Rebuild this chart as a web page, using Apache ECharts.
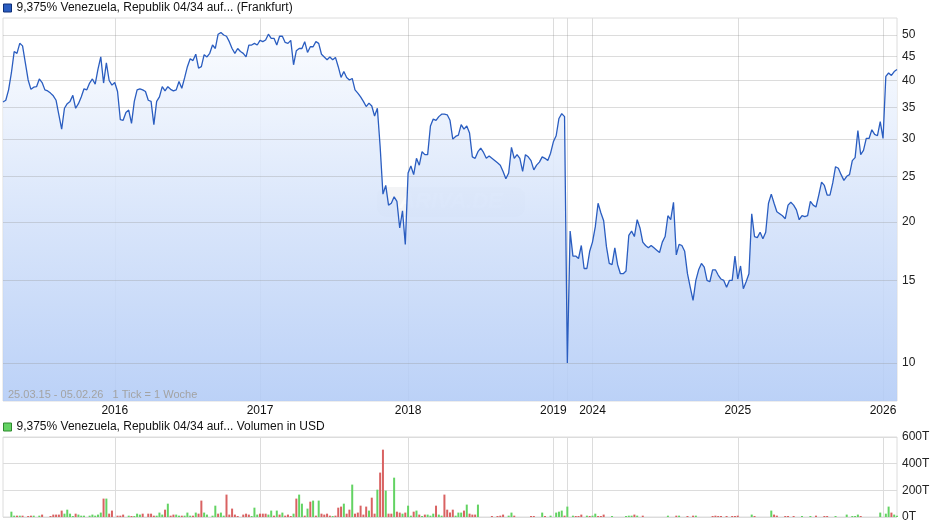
<!DOCTYPE html>
<html><head><meta charset="utf-8">
<script src="https://cdn.jsdelivr.net/npm/echarts@6/dist/echarts.min.js"></script>
<style>html,body{margin:0;padding:0;background:#fff}#c{width:940px;height:526px}</style>
</head><body><div id="c"></div>
<script>
const seriesName = '9,375% Venezuela, Republik 04/34 auf... (Frankfurt)';
const volumeName = '9,375% Venezuela, Republik 04/34 auf... Volumen in USD';
const rangeText = '25.03.15 - 05.02.26   1 Tick = 1 Woche';
const watermarkText = 'ARIVA.DE';
// weekly ticks, two segments (gap between 2019 and 2023)
const seg1Start = '2015-03-26', seg1Weeks = 202;
const seg2Start = '2023-11-02', seg2Weeks = 119;
const priceTicks = [10, 15, 20, 25, 30, 35, 40, 45, 50];
const volumeTicks = [0, 200, 400, 600];

const price = [
36.0,36.3,38.2,41.5,46.1,45.7,48.0,47.4,43.6,40.1,
38.3,38.7,38.8,40.3,39.6,38.2,38.0,37.6,37.1,36.3,
33.8,31.5,34.9,35.7,36.1,37.2,34.9,35.7,36.9,38.4,
38.2,39.5,40.3,39.3,42.3,44.9,39.5,43.6,40.0,39.1,
39.6,37.9,33.0,32.9,34.2,34.6,32.4,36.1,38.2,38.4,
38.2,37.9,36.3,36.1,32.2,36.1,36.9,38.8,38.0,38.8,
38.3,38.0,38.2,39.8,38.5,40.5,42.8,44.5,44.1,45.5,
42.5,42.8,45.4,44.9,45.7,47.6,46.8,50.2,50.6,50.0,
49.7,48.4,46.8,45.7,46.8,46.1,45.7,44.9,47.6,47.6,
48.0,47.6,48.7,48.4,48.8,50.2,49.2,49.2,47.6,49.7,
49.7,48.2,48.0,48.7,43.2,46.3,46.8,46.8,48.4,45.9,
47.2,47.2,48.4,48.0,45.5,44.9,44.3,44.9,44.3,44.8,
42.8,40.6,41.8,40.6,40.1,40.4,38.2,37.6,36.9,36.1,
35.2,35.8,35.3,33.6,34.9,28.9,22.9,23.9,21.7,21.9,
22.6,22.1,19.4,21.1,17.9,25.4,26.3,25.2,27.3,26.4,
28.2,27.8,27.8,32.0,33.1,32.9,33.5,33.9,33.9,33.8,
32.9,30.0,30.4,30.6,32.2,31.5,32.0,30.9,27.5,27.3,
28.2,28.7,28.1,27.3,27.6,27.3,27.0,26.7,26.4,25.6,
24.7,25.4,28.8,27.3,27.8,27.3,25.6,27.8,27.5,27.0,
25.8,26.4,26.8,27.5,27.3,27.0,28.0,29.6,30.5,33.2,
34.0,33.5,
10.0,19.1,16.9,16.9,16.7,17.8,15.9,15.9,
17.3,18.1,19.5,21.9,20.9,20.1,17.7,16.3,16.2,17.6,
16.2,15.5,15.5,15.7,18.7,19.1,18.6,20.2,19.4,18.1,
17.8,17.6,17.8,17.6,17.4,17.2,18.1,18.6,20.6,20.2,
22.0,17.0,17.9,17.8,17.3,15.5,14.5,13.6,15.0,15.8,
16.3,16.0,15.0,14.9,15.8,15.8,15.4,15.1,15.0,14.5,
15.0,15.0,16.9,15.1,16.1,14.4,14.9,15.5,20.8,18.6,
18.5,19.0,18.4,19.0,21.9,22.9,21.9,21.0,20.8,20.6,
20.3,21.7,22.0,21.7,21.2,20.2,20.6,20.5,20.6,22.1,
21.7,21.5,22.8,24.3,23.9,22.8,22.8,24.2,26.2,26.0,
25.2,24.5,25.0,25.2,27.0,27.4,31.3,27.8,28.4,30.1,
30.1,31.4,30.7,30.5,32.7,30.1,40.8,41.5,41.0,41.8,
42.2
];

// weekly volume in thousand USD (T), split by up / down week
const volUp = [
0,0,0,40,10,0,10,0,0,0,
0,10,0,10,0,0,0,0,0,0,
0,0,25,55,25,3,0,18,10,10,
0,10,18,10,18,33,0,138,0,0,
0,0,0,0,0,10,0,3,25,18,
0,0,0,0,0,10,33,18,0,100,
0,0,18,10,0,10,33,10,0,33,
0,0,33,18,0,10,85,0,33,10,
0,0,0,0,0,0,0,0,0,3,
70,18,0,0,0,18,48,0,48,0,
33,0,0,0,25,0,168,100,0,63,
0,123,0,123,0,0,0,0,3,0,
0,0,100,0,0,243,0,0,0,0,
0,48,0,0,205,0,0,198,0,0,
295,0,0,25,0,85,10,0,48,0,
3,0,18,10,25,0,18,10,0,0,
0,0,10,33,33,0,93,0,0,0,
93,0,0,0,0,0,0,0,0,0,
0,10,33,0,0,0,0,0,0,0,
0,0,0,33,0,0,10,0,33,40,
48,0,78,0,10,0,0,0,0,10,
0,10,25,0,0,0,0,0,3,0,
0,0,0,3,10,10,0,10,0,0,
0,0,0,0,0,0,0,0,10,0,
0,0,10,0,0,0,0,0,10,0,
0,0,0,0,0,0,0,0,0,0,
0,0,0,0,0,0,0,0,18,0,
0,0,0,0,0,48,0,0,0,0,
0,0,0,0,0,0,3,0,0,3,
0,0,0,0,0,0,0,0,3,0,
0,0,18,0,3,3,18,0,0,0,
0,0,0,0,33,0,25,78,0,18,
10
];
const volDown = [
0,0,0,0,0,10,0,10,0,3,
10,0,0,0,18,0,0,3,18,18,
18,48,0,0,0,0,25,0,0,0,
0,0,0,0,0,0,138,0,25,48,
0,10,10,18,0,0,3,0,0,0,
25,0,25,25,10,0,0,0,55,0,
10,18,0,0,10,0,0,0,10,0,
25,123,0,0,0,0,0,25,0,0,
168,18,63,18,3,0,18,25,18,0,
0,0,25,25,25,0,0,10,0,18,
0,10,18,3,0,138,0,0,10,0,
115,0,10,0,25,18,25,10,0,10,
70,78,0,25,55,0,25,33,85,18,
78,0,145,25,0,333,505,0,25,25,
0,40,33,0,33,0,0,40,0,18,
0,18,0,0,0,85,0,0,168,55,
33,55,0,0,0,48,0,25,18,18,
0,0,0,0,0,3,0,3,10,18,
0,0,0,10,0,0,0,0,0,3,
3,0,0,0,3,0,0,0,0,0,
0,10,0,0,0,3,3,18,0,0,
3,0,0,3,3,18,0,0,0,0,
0,0,0,0,0,0,18,0,0,10,
0,0,0,0,0,0,0,0,0,0,
0,10,0,0,0,3,0,10,0,0,
0,0,0,0,3,10,3,3,0,3,
0,3,3,10,0,0,0,0,0,3,
0,0,0,0,0,0,18,10,0,0,
3,3,0,3,0,0,0,0,0,0,
0,10,0,0,3,3,0,0,0,0,
0,0,0,0,0,0,0,3,0,0,
0,0,0,0,0,0,0,0,33,0,
0
];

function weeks(start, n) {
  const t0 = Date.parse(start + 'T00:00:00Z'), out = [];
  for (let k = 0; k < n; k++) out.push(new Date(t0 + k * 7 * 864e5).toISOString().slice(0, 10));
  return out;
}
const categories = weeks(seg1Start, seg1Weeks).concat(weeks(seg2Start, seg2Weeks));
const tms = categories.map(s => Date.parse(s + 'T00:00:00Z'));
const isBreak = i => i > 0 && (tms[i] - tms[i - 1]) / 864e5 > 7;
// year marks: the weekly tick nearest to 1 January, inside each continuous segment
const yearMark = {};
(function () {
  let s = 0;
  for (let i = 1; i <= categories.length; i++) {
    if (i === categories.length || isBreak(i)) {
      const e = i - 1;
      for (let y = +categories[s].slice(0, 4) + 1; y <= +categories[e].slice(0, 4); y++) {
        const j1 = Date.UTC(y, 0, 1);
        let best = s;
        for (let k = s; k <= e; k++) if (Math.abs(tms[k] - j1) < Math.abs(tms[best] - j1)) best = k;
        yearMark[best] = String(y);
      }
      s = i;
    }
  }
})();

const FONT = "'Liberation Sans', Arial, sans-serif";
const GRID = '#dcdcdc';
const nil = a => a.map(v => (v ? v : '-'));

const chart = echarts.init(document.getElementById('c'), null, {renderer: 'canvas'});
chart.setOption({
  animation: false,
  textStyle: {fontFamily: FONT},
  legend: [
    {data: [seriesName], left: 0, top: 2, padding: [0, 3], itemWidth: 8, itemHeight: 8, icon: 'rect',
     selectedMode: false, textStyle: {fontSize: 12, color: '#111', fontFamily: FONT},
     itemStyle: {borderColor: '#0e2f78', borderWidth: 1}},
    {data: [volumeName], left: 0, top: 421, padding: [0, 3], itemWidth: 8, itemHeight: 8, icon: 'rect',
     selectedMode: false, textStyle: {fontSize: 12, color: '#111', fontFamily: FONT},
     itemStyle: {borderColor: '#2f8a2f', borderWidth: 1}}
  ],
  grid: [
    {left: 3, right: 43, top: 18, height: 383, show: true, borderColor: GRID, borderWidth: 1, backgroundColor: 'transparent'},
    {left: 3, right: 43, top: 437, height: 80, show: true, borderColor: GRID, borderWidth: 1, backgroundColor: 'transparent'}
  ],
  xAxis: [
    {type: 'category', gridIndex: 0, data: categories, boundaryGap: false,
     axisLine: {show: false}, axisTick: {show: false},
     axisLabel: {interval: (i) => yearMark[i] !== undefined, formatter: (v, i) => yearMark[i] || '', margin: 4,
                 fontSize: 12, color: '#111', fontFamily: FONT},
     splitLine: {show: true, interval: (i) => yearMark[i] !== undefined || isBreak(i), lineStyle: {color: GRID, width: 1}}},
    {type: 'category', gridIndex: 1, data: categories, boundaryGap: false,
     axisLine: {show: false}, axisTick: {show: false}, axisLabel: {show: false},
     splitLine: {show: true, interval: (i) => yearMark[i] !== undefined || isBreak(i), lineStyle: {color: GRID, width: 1}}}
  ],
  yAxis: [
    {type: 'log', gridIndex: 0, position: 'right', min: 8.30, max: 54.35,
     axisLine: {show: false}, axisTick: {show: false}, axisLabel: {show: false}, splitLine: {show: false}},
    {type: 'value', gridIndex: 1, position: 'right', min: volumeTicks[0], max: volumeTicks[volumeTicks.length - 1], interval: 200,
     axisLine: {show: false}, axisTick: {show: false},
     axisLabel: {formatter: '{value}T', margin: 5, fontSize: 12, color: '#222', fontFamily: FONT, padding: [3, 0, 0, 0]},
     splitLine: {show: true, lineStyle: {color: GRID, width: 1}}}
  ],
  series: [
    {name: 'Fläche', type: 'line', xAxisIndex: 0, yAxisIndex: 0, data: price, symbol: 'none', silent: true, z: 1,
     lineStyle: {width: 0, opacity: 0},
     areaStyle: {origin: 'start', opacity: 1, color: new echarts.graphic.LinearGradient(0, 0, 0, 1, [
       {offset: 0, color: 'rgba(250,252,255,0.88)'},
       {offset: 0.5, color: 'rgba(212,226,250,0.88)'},
       {offset: 1, color: 'rgba(178,203,246,0.88)'}])},
     emphasis: {disabled: true},
     markLine: {silent: true, symbol: 'none', z: 2, animation: false,
       lineStyle: {color: 'rgba(150,150,150,0.33)', width: 1, type: 'solid'},
       label: {position: 'end', distance: 5, color: '#222', fontSize: 12, fontFamily: FONT, padding: [4, 0, 0, 0],
               formatter: p => String(p.value)},
       emphasis: {disabled: true},
       data: priceTicks.map(v => ({yAxis: v}))}},
    {name: seriesName, type: 'line', xAxisIndex: 0, yAxisIndex: 0, data: price, symbol: 'none', z: 3,
     lineStyle: {color: '#2a5dc0', width: 1.3}, itemStyle: {color: '#2a5dc0'}, emphasis: {disabled: true}},
    {name: volumeName, type: 'bar', xAxisIndex: 1, yAxisIndex: 1, data: nil(volUp), barWidth: 2, barMinHeight: 1,
     itemStyle: {color: '#63d363'}, emphasis: {disabled: true}},
    {name: 'Volumen fallend', type: 'bar', xAxisIndex: 1, yAxisIndex: 1, data: nil(volDown), barWidth: 2, barMinHeight: 1,
     barGap: '-100%', itemStyle: {color: '#d96262'}, emphasis: {disabled: true}}
  ],
  graphic: [
    {type: 'text', left: 8, top: 389, z: 10, silent: true,
     style: {text: rangeText, font: "11px 'Liberation Sans', Arial, sans-serif", fill: '#a3a3a3'}},
    {type: 'group', left: 377, top: 187, z: 2, silent: true, children: [
      {type: 'rect', shape: {x: 0, y: 0, width: 148, height: 30, r: 9}, style: {fill: 'rgba(120,135,160,0.09)'}},
      {type: 'text', style: {x: 74, y: 15, text: watermarkText, align: 'center', verticalAlign: 'middle',
        font: "italic bold 22px 'Liberation Sans', Arial, sans-serif", fill: 'rgba(255,255,255,0.55)'}}
    ]}
  ]
});
</script>
</body></html>
